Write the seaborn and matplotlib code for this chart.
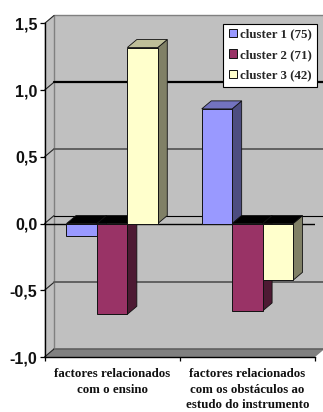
import matplotlib
matplotlib.use("Agg")
import matplotlib.pyplot as plt
from matplotlib.patches import Polygon
import pandas as pd
import seaborn as sns

categories = ["factores relacionados\ncom o ensino",
              "factores relacionados\ncom os obstáculos ao\nestudo do instrumento"]
clusters = ["cluster 1 (75)", "cluster 2 (71)", "cluster 3 (42)"]
cluster1 = [-0.09, 0.86]
cluster2 = [-0.68, -0.655]
cluster3 = [1.32, -0.425]
y_ticks = [-1.0, -0.5, 0.0, 0.5, 1.0, 1.5]
y_labels = ["-1,0", "-0,5", "0,0", "0,5", "1,0", "1,5"]

front = ["#9999FF", "#993366", "#FFFFCC"]
top = ["#7373BF", "#000000", "#BFBF99"]
side = ["#4D4D80", "#4D1A33", "#808066"]

df = pd.DataFrame({
    "cat": categories * 3,
    "cluster": [c for c in clusters for _ in categories],
    "value": cluster1 + cluster2 + cluster3,
})

sns.set_style("white")
W, H = 323, 412
fig = plt.figure(figsize=(W / 100, H / 100), dpi=100, facecolor="white")
L, R, T, B = 44.5, 315, 23.5, 357
ax = fig.add_axes([L / W, (H - B) / H, (R - L) / W, (B - T) / H])

sns.barplot(data=df, x="cat", y="value", hue="cluster", order=categories,
            hue_order=clusters, palette=front, width=0.675, gap=0, dodge=True,
            saturation=1, edgecolor="#111111", linewidth=0.7, errorbar=None,
            legend=False, ax=ax)
ax.set_xlim(-0.5, 1.5)
ax.set_ylim(-1.0, 1.5)

DX = 9.5 * 2 / (R - L)
DY = 8 * 2.5 / (B - T)
x0, x1 = ax.get_xlim()
y0, y1 = ax.get_ylim()


def poly(pts, fc, ec="none", lw=0, z=1):
    ax.add_patch(Polygon(pts, closed=True, facecolor=fc, edgecolor=ec,
                         linewidth=lw, zorder=z, clip_on=False))


# walls and floor
poly([(x0, y0), (x0 + DX, y0 + DY), (x1 + DX, y0 + DY), (x1 + DX, y1 + DY),
      (x0 + DX, y1 + DY), (x0, y1)], "#C0C0C0", z=0.5)
poly([(x0, y0), (x0 + DX, y0 + DY), (x1 + DX, y0 + DY), (x1, y0)], "#808080", z=0.7)
ax.plot([x0 + DX, x1 + DX], [y0 + DY] * 2, color="#606060", lw=1.2, zorder=0.75,
        clip_on=False)
ax.plot([x0 + DX, x0 + DX, x1 + DX], [y0 + DY, y1 + DY, y1 + DY], color="#808080",
        lw=1.0, zorder=0.75, clip_on=False)

# gridlines on the back wall and their diagonals on the side wall
for v in y_ticks:
    diag = "#222222"
    ax.plot([x0, x0 + DX], [v, v + DY], color=diag, lw=0.8, zorder=0.8, clip_on=False)
    if v in (-1.0, 1.5):
        continue
    color, lw = "#595959", 1.3
    if v == 1.0:
        color, lw = "#000000", 1.6
    if v == 0.0:
        color, lw = "#000000", 0.8
    ax.plot([x0 + DX, x1 + DX], [v + DY, v + DY], color=color, lw=lw, zorder=0.8,
            clip_on=False)

# 3-D faces derived from the seaborn bars
z = 2.0
for k in range(len(categories)):
    for i, cont in enumerate(ax.containers):
        bar = cont[k]
        xa, xb = bar.get_x(), bar.get_x() + bar.get_width()
        yb, yt = sorted((bar.get_y(), bar.get_y() + bar.get_height()))
        poly([(xb, yb), (xb + DX, yb + DY), (xb + DX, yt + DY), (xb, yt)], side[i],
             "#111111", 0.6, z)
        cap = top[i] if bar.get_height() > 0 else "#000000"
        poly([(xa, yt), (xa + DX, yt + DY), (xb + DX, yt + DY), (xb, yt)], cap,
             "#111111", 0.6, z + 0.1)
        bar.set_zorder(z + 0.2)
        bar.set_clip_on(False)
        z += 1

# zero axis
ax.axhline(0, color="#000000", lw=1.0, zorder=1.5)
sec = ax.secondary_xaxis(0.4)
sec.set_xticks([-0.5, 0.5, 1.5])
sec.set_xticklabels([])
sec.tick_params(length=3, width=0.9, color="#000000", direction="out")
sec.spines["bottom"].set_visible(False)
sec.spines["top"].set_visible(False)

# axes
for s in ("top", "right"):
    ax.spines[s].set_visible(False)
for s in ("left", "bottom"):
    ax.spines[s].set_visible(True)
    ax.spines[s].set_color("#000000")
    ax.spines[s].set_linewidth(1.0)
    ax.spines[s].set_zorder(30)
ax.patch.set_visible(False)
ax.set_xlabel("")
ax.set_ylabel("")
ax.set_yticks(y_ticks)
ax.set_yticklabels(y_labels, family="Liberation Sans", fontweight="bold", fontsize=11.5,
                   color="#111111")
ax.tick_params(axis="y", length=3.5, width=0.9, color="#000000", left=True, pad=1.5)
ax.set_xticks([-0.5, 0.5, 1.5])
ax.set_xticklabels([])
ax.tick_params(axis="x", which="major", length=3, width=0.9, color="#000000", bottom=True)
ax.set_xticks([0, 1], minor=True)
ax.set_xticklabels(categories, minor=True, family="Liberation Serif", fontweight="bold",
                   fontsize=9.3, linespacing=1.38, color="#111111")
ax.tick_params(axis="x", which="minor", length=0, pad=8)

# legend
handles = [cont[0] for cont in ax.containers]
leg = ax.legend(handles, clusters, loc="upper right", bbox_to_anchor=(1.0085, 1.0),
                borderaxespad=0, frameon=True, fancybox=False, framealpha=1,
                edgecolor="#000000", facecolor="white", handlelength=0.65,
                handleheight=0.65, handletextpad=0.25, labelspacing=0.65,
                borderpad=0.4, prop={"family": "Liberation Serif", "weight": "bold",
                                     "size": 9.3})
leg.set_zorder(40)
leg.get_frame().set_linewidth(0.8)

fig.savefig("out.png", dpi=100, facecolor="white")
